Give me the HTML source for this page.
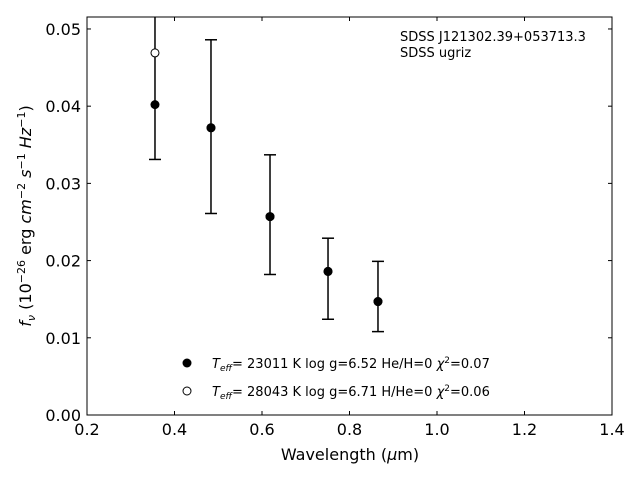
<!DOCTYPE html>
<html><head><meta charset="utf-8"><style>
body{margin:0;background:#fff;}
svg{display:block;font-family:"DejaVu Sans","Liberation Sans",sans-serif;}
</style></head><body>
<svg id="chart" width="640" height="480" viewBox="0 0 640 480" xmlns="http://www.w3.org/2000/svg">
<rect x="0" y="0" width="640" height="480" fill="#fff"/>
<g id="marks"></g>
<g id="axes"></g>
<rect x="87" y="17" width="525" height="398" fill="none" stroke="#000" stroke-width="1"/>
<text x="350" y="460" font-size="16" text-anchor="middle">Wavelength (<tspan font-style="italic">μ</tspan>m)</text>
<text transform="translate(31,216) rotate(-90)" font-size="16" text-anchor="middle"><tspan font-style="italic">f<tspan font-size="11" dy="4">ν</tspan></tspan><tspan dy="-4"> (10</tspan><tspan font-size="11" dy="-6">−26</tspan><tspan dy="6"> erg </tspan><tspan font-style="italic">cm</tspan><tspan font-size="11" dy="-6">−2</tspan><tspan dy="6" font-style="italic"> s</tspan><tspan font-size="11" dy="-6">−1</tspan><tspan dy="6" font-style="italic"> Hz</tspan><tspan font-size="11" dy="-6">−1</tspan><tspan dy="6">)</tspan></text>
<text x="400" y="41" font-size="13">SDSS J121302.39+053713.3</text>
<text x="400" y="57" font-size="13">SDSS ugriz</text>
<g font-size="13">
<circle cx="187" cy="363" r="4.5" fill="#000"/>
<text x="212" y="368"><tspan font-style="italic">T</tspan><tspan font-style="italic" font-size="9" dy="3">eff</tspan><tspan dy="-3">= 23011 K  log g=6.52  He/H=0  </tspan><tspan font-style="italic">χ</tspan><tspan font-size="9" dy="-5">2</tspan><tspan dy="5">=0.07</tspan></text>
<circle cx="187" cy="391" r="4" fill="#fff" stroke="#000"/>
<text x="212" y="396"><tspan font-style="italic">T</tspan><tspan font-style="italic" font-size="9" dy="3">eff</tspan><tspan dy="-3">= 28043 K  log g=6.71  H/He=0  </tspan><tspan font-style="italic">χ</tspan><tspan font-size="9" dy="-5">2</tspan><tspan dy="5">=0.06</tspan></text>
</g>
</svg>
<script>
const wavelengths=[0.3554,0.4834,0.6183,0.7509,0.8651];
const fluxObs=[0.0402,0.0372,0.0257,0.0186,0.0147];
const errLow=[0.0331,0.0261,0.0182,0.0124,0.0108];
const errHigh=[0.0540,0.0486,0.0337,0.0229,0.0199];
const modelHe=[0.0402,0.0372,0.0257,0.0186,0.0147];
const modelH=[0.0469,0.0372,0.0257,0.0186,0.0147];
const xTicks=[0.2,0.4,0.6,0.8,1.0,1.2,1.4];
const xTickLabels=["0.2","0.4","0.6","0.8","1.0","1.2","1.4"];
const yTicks=[0,0.01,0.02,0.03,0.04,0.05];
const yTickLabels=["0.00","0.01","0.02","0.03","0.04","0.05"];
const X0=87,X1=612,Y0=415,Y1=17,xmin=0.2,xmax=1.4,ymin=0,ymax=0.05155;
const sx=v=>X0+(v-xmin)/(xmax-xmin)*(X1-X0);
const sy=v=>Y0-(v-ymin)/(ymax-ymin)*(Y0-Y1);
const NS="http://www.w3.org/2000/svg";
function mk(tag,attrs,parent){const e=document.createElementNS(NS,tag);for(const k in attrs)e.setAttribute(k,attrs[k]);parent.appendChild(e);return e;}
const axes=document.getElementById('axes'),marks=document.getElementById('marks');
xTicks.forEach((t,i)=>{const x=sx(t);
 let l=mk('line',{x1:x,x2:x,y1:Y0,y2:Y0-4,stroke:'#000'},axes);
 l=mk('line',{x1:x,x2:x,y1:Y1,y2:Y1+4,stroke:'#000'},axes);
 const tx=mk('text',{x:x,y:Y0+20,'font-size':16,'text-anchor':'middle'},axes);tx.textContent=xTickLabels[i];
 });
yTicks.forEach((t,i)=>{const y=sy(t);
 let l=mk('line',{x1:X0,x2:X0+4,y1:y,y2:y,stroke:'#000'},axes);
 l=mk('line',{x1:X1,x2:X1-4,y1:y,y2:y,stroke:'#000'},axes);
 const tx=mk('text',{x:X0-6,y:y+6,'font-size':16,'text-anchor':'end'},axes);tx.textContent=yTickLabels[i];
 });
const clipTop=Y1;
wavelengths.forEach((w,i)=>{const x=sx(w);const yl=sy(errLow[i]),yh=Math.max(sy(errHigh[i]),clipTop);
 let l=mk('line',{x1:x,x2:x,y1:yl,y2:yh,stroke:'#000','stroke-width':1.5},marks);
 l=mk('line',{x1:x-6,x2:x+6,y1:yl,y2:yl,stroke:'#000','stroke-width':1.5},marks);
 if(sy(errHigh[i])>=clipTop){l=mk('line',{x1:x-6,x2:x+6,y1:yh,y2:yh,stroke:'#000','stroke-width':1.5},marks);}
});
wavelengths.forEach((w,i)=>{const c=mk('circle',{cx:sx(w),cy:sy(modelH[i]),r:4,fill:'#fff',stroke:'#000'},marks);
 });
wavelengths.forEach((w,i)=>{const c=mk('circle',{cx:sx(w),cy:sy(modelHe[i]),r:4.5,fill:'#000'},marks);
 });
</script>
</body></html>
